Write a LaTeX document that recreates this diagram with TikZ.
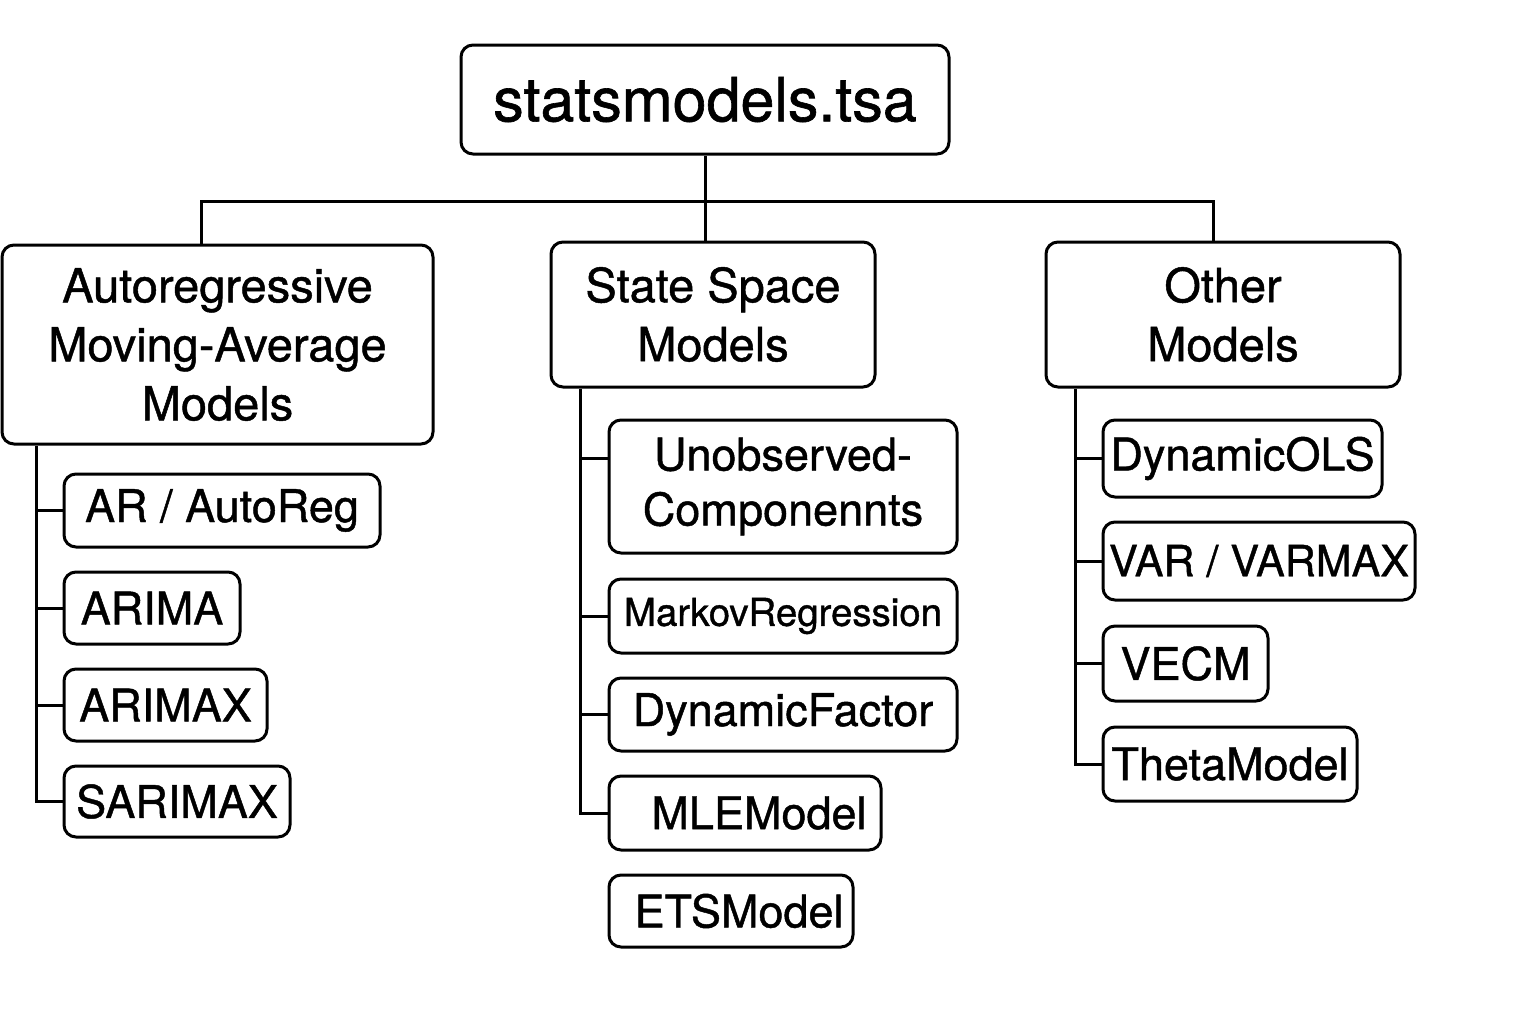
\documentclass[tikz,border=0pt]{standalone}
\usepackage{fontspec}
\setmainfont{TeX Gyre Heros}[UprightFeatures={FakeBold=1}]
\usetikzlibrary{calc}
\begin{document}
\begin{tikzpicture}[x=0.5pt,y=-0.5pt,
  line width=1.5pt,
  box/.style={draw, rounded corners=6pt, inner sep=0pt, align=center, line width=1.5pt},
  rootfont/.style={font=\fontsize{30.5}{36}\selectfont},
  headfont/.style={font=\fontsize{23.5}{29.5}\selectfont},
  kidfont/.style={font=\fontsize{22.5}{27.5}\selectfont},
  smallfont/.style={font=\fontsize{19.2}{23}\selectfont}]
\useasboundingbox (0,0) rectangle (1536,1024);
\newcommand{\bx}[7]{%
  \node[box,#7,minimum width={(#4-#2)*0.5pt},minimum height={(#5-#3)*0.5pt}]
    (#1) at ({(#2+#4)/2},{(#3+#5)/2}) {#6};}
% root
\bx{root}{461}{45}{949}{154}{statsmodels.tsa}{rootfont}
% headers
\bx{arma}{2}{245}{433}{444}{Autoregressive\\Moving-Average\\Models}{headfont}
\bx{ss}{551}{242}{875}{387}{State Space\\Models}{headfont}
\bx{other}{1046}{242}{1400}{387}{Other\\Models}{headfont}
% left children
\bx{ar}{64}{474}{380}{547}{AR / AutoReg}{kidfont}
\bx{arima}{64}{572}{240}{644}{ARIMA}{kidfont}
\bx{arimax}{64}{669}{267}{741}{ARIMAX}{kidfont}
\bx{sarimax}{64}{766}{290}{837}{SARIMAX}{kidfont}
% middle children
\bx{uc}{609}{420}{957}{553}{Unobserved-\\Componennts}{kidfont}
\bx{markov}{609}{579}{957}{653}{MarkovRegression}{smallfont}
\bx{dynf}{609}{678}{957}{751}{DynamicFactor}{kidfont}
\bx{mle}{609}{776}{881}{850}{\hspace*{14pt}MLEModel}{kidfont}
\bx{ets}{609}{875}{853}{947}{\hspace*{8pt}ETSModel}{kidfont}
% right children
\bx{dols}{1103}{420}{1382}{497}{DynamicOLS}{kidfont}
\bx{var}{1103}{522}{1415}{600}{\fontsize{21.5}{26}\selectfont VAR / VARMAX}{kidfont}
\bx{vecm}{1103}{626}{1268}{701}{VECM}{kidfont}
\bx{theta}{1103}{727}{1357}{801}{ThetaModel}{kidfont}
% top connectors
\coordinate (hbar) at (706,201);
\coordinate (ldrop) at (201,0);
\coordinate (rdrop) at (1213,0);
\draw (root.south) -- (ss.north -| root.south);
\draw (arma.north -| ldrop) |- (hbar) -| (other.north -| rdrop);
% left bus
\coordinate (lbus) at (36,0);
\draw (arma.south -| lbus) |- (sarimax.west);
\foreach \n in {ar,arima,arimax} \draw (\n.west -| lbus) -- (\n.west);
% middle bus
\coordinate (mbus) at (580,0);
\coordinate (uctick) at ($(uc.west)+(0,-28)$);
\draw (ss.south -| mbus) |- (mle.west);
\draw (uctick -| mbus) -- (uctick);
\foreach \n in {markov,dynf} \draw (\n.west -| mbus) -- (\n.west);
% right bus
\coordinate (rbus) at (1075,0);
\draw (other.south -| rbus) |- (theta.west);
\foreach \n in {dols,var,vecm} \draw (\n.west -| rbus) -- (\n.west);
\end{tikzpicture}
\end{document}
